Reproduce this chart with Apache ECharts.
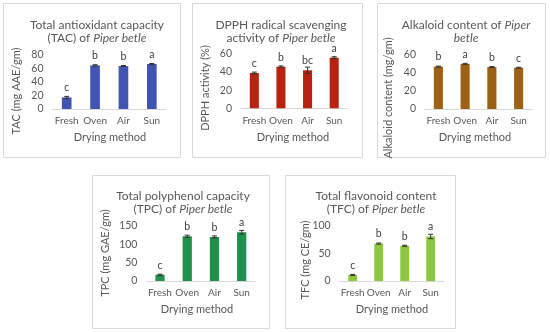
<!DOCTYPE html>
<html><head><meta charset="utf-8">
<script src="https://cdn.jsdelivr.net/npm/echarts@6/dist/echarts.min.js"></script>
<style>html,body{margin:0;padding:0;background:#fff}#c{width:550px;height:332px}</style>
</head><body><div id="c"></div>
<script>
var categories = ['Fresh', 'Oven', 'Air', 'Sun'];
var tacValues = [17, 64, 63, 66];
var tacErr = [1.5, 1, 0.8, 0.8];
var tacLetters = ['c', 'b', 'b', 'a'];
var dpphValues = [39, 46, 42, 56];
var dpphErr = [1, 0.8, 3.5, 1];
var dpphLetters = ['c', 'b', 'bc', 'a'];
var alkValues = [46.5, 49.5, 46, 45.3];
var alkErr = [0.5, 0.6, 0.5, 0.5];
var alkLetters = ['b', 'a', 'b', 'c'];
var tpcValues = [17, 122, 120, 133];
var tpcErr = [1.5, 3, 3, 5];
var tpcLetters = ['c', 'b', 'b', 'a'];
var tfcValues = [11, 68, 64, 81];
var tfcErr = [1, 1, 1, 4];
var tfcLetters = ['c', 'b', 'b', 'a'];

var FONT = 'Lato';
var panels = [
  {box:[3,3,177,154], grid:[52.5,54.5,113.5,54.5], max:80, interval:20, vals:tacValues, err:tacErr, letters:tacLetters, color:'#4153B3',
   title:['Total antioxidant capacity', '(TAC) of {i|Piper betle}'], tx:92, ty:13, yname:'TAC (mg AAE/gm)', ynx:16, yny:91, xnx:110, xny:137},
  {box:[192,3,170,154], grid:[241,54,106.5,54.3], max:60, interval:20, vals:dpphValues, err:dpphErr, letters:dpphLetters, color:'#B8230F',
   title:['DPPH radical scavenging', 'activity of {i|Piper betle}'], tx:276, ty:13, yname:'DPPH activity (%)', ynx:205, yny:88, xnx:293, xny:137},
  {box:[377,3,168,154], grid:[425,54.3,107,54.7], max:60, interval:20, vals:alkValues, err:alkErr, letters:alkLetters, color:'#9C6114',
   title:['Alkaloid content of {i|Piper}', '{i|betle}'], tx:461, ty:13, yname:'Alkaloid content (mg/gm)', ynx:388, yny:98, xnx:475, xny:137},
  {box:[92,175,177,153], grid:[146.4,226,108.9,55], max:150, interval:50, vals:tpcValues, err:tpcErr, letters:tpcLetters, color:'#21904A',
   title:['Total polyphenol capacity', '(TPC) of {i|Piper betle}'], tx:178, ty:184, yname:'TPC (mg GAE/gm)', ynx:105, yny:253, xnx:197, xny:309},
  {box:[285,175,170,153], grid:[339.7,226,104,55], max:100, interval:50, vals:tfcValues, err:tfcErr, letters:tfcLetters, color:'#8DC63F',
   title:['Total flavonoid content', '(TFC) of {i|Piper betle}'], tx:371, ty:184, yname:'TFC (mg CE/gm)', ynx:305, yny:260, xnx:392, xny:309}
];

var grids = [], xAxes = [], yAxes = [], series = [], titles = [], graphics = [];
panels.forEach(function (p, k) {
  graphics.push({type:'rect', shape:{x:p.box[0]+0.5, y:p.box[1]+0.5, width:p.box[2], height:p.box[3]},
    style:{fill:'#fff', stroke:'#D9D9D9', lineWidth:1}, z:-10});
  grids.push({left:p.grid[0], top:p.grid[1], width:p.grid[2], height:p.grid[3]});
  xAxes.push({type:'category', gridIndex:k, data:categories,
    axisLine:{lineStyle:{color:'#D9D9D9'}}, axisTick:{show:false},
    axisLabel:{color:'#595959', fontSize:10, fontFamily:FONT, margin:7, interval:0}});
  yAxes.push({type:'value', gridIndex:k, min:0, max:p.max, interval:p.interval,
    splitLine:{show:false}, axisLine:{show:false}, axisTick:{show:false},
    axisLabel:{color:'#595959', fontSize:10.5, fontFamily:FONT, margin:9}});
  series.push({type:'bar', xAxisIndex:k, yAxisIndex:k, data:p.vals, barWidth:'34%',
    itemStyle:{color:p.color},
    label:{show:true, position:'top', distance:4, color:'#404040', fontSize:10.5, fontFamily:FONT,
      formatter:function (d) { return p.letters[d.dataIndex]; }}});
  var errData = p.vals.map(function (v, i) { return [i, v - p.err[i], v + p.err[i]]; });
  series.push({type:'custom', xAxisIndex:k, yAxisIndex:k, data:errData, z:5, silent:true,
    renderItem:function (params, api) {
      var lo = api.coord([api.value(0), api.value(1)]);
      var hi = api.coord([api.value(0), api.value(2)]);
      var w = 2.5;
      var st = {stroke:'#333', lineWidth:1};
      return {type:'group', children:[
        {type:'line', shape:{x1:lo[0], y1:lo[1], x2:hi[0], y2:hi[1]}, style:st},
        {type:'line', shape:{x1:lo[0]-w, y1:lo[1], x2:lo[0]+w, y2:lo[1]}, style:st},
        {type:'line', shape:{x1:hi[0]-w, y1:hi[1], x2:hi[0]+w, y2:hi[1]}, style:st}
      ]};
    }});
  titles.push({text:p.title.join('\n'), left:p.tx, top:p.ty, textAlign:'center',
    textStyle:{fontFamily:FONT, fontSize:12, fontWeight:'normal', color:'#595959', lineHeight:13.5,
      rich:{i:{fontStyle:'italic', fontFamily:FONT, fontSize:12, color:'#595959', lineHeight:13.5}}}});
  graphics.push({type:'text', x:p.ynx, y:p.yny, rotation:Math.PI/2,
    style:{text:p.yname, fill:'#595959', font:'11px ' + FONT, textAlign:'center', textVerticalAlign:'middle'}});
  graphics.push({type:'text', x:p.xnx, y:p.xny,
    style:{text:'Drying method', fill:'#595959', font:'11px ' + FONT, textAlign:'center', textVerticalAlign:'middle'}});
});

var chart = echarts.init(document.getElementById('c'), null, {renderer:'canvas'});
chart.setOption({
  animation:false,
  backgroundColor:'#fff',
  title:titles,
  grid:grids, xAxis:xAxes, yAxis:yAxes, series:series, graphic:graphics
});
</script></body></html>
